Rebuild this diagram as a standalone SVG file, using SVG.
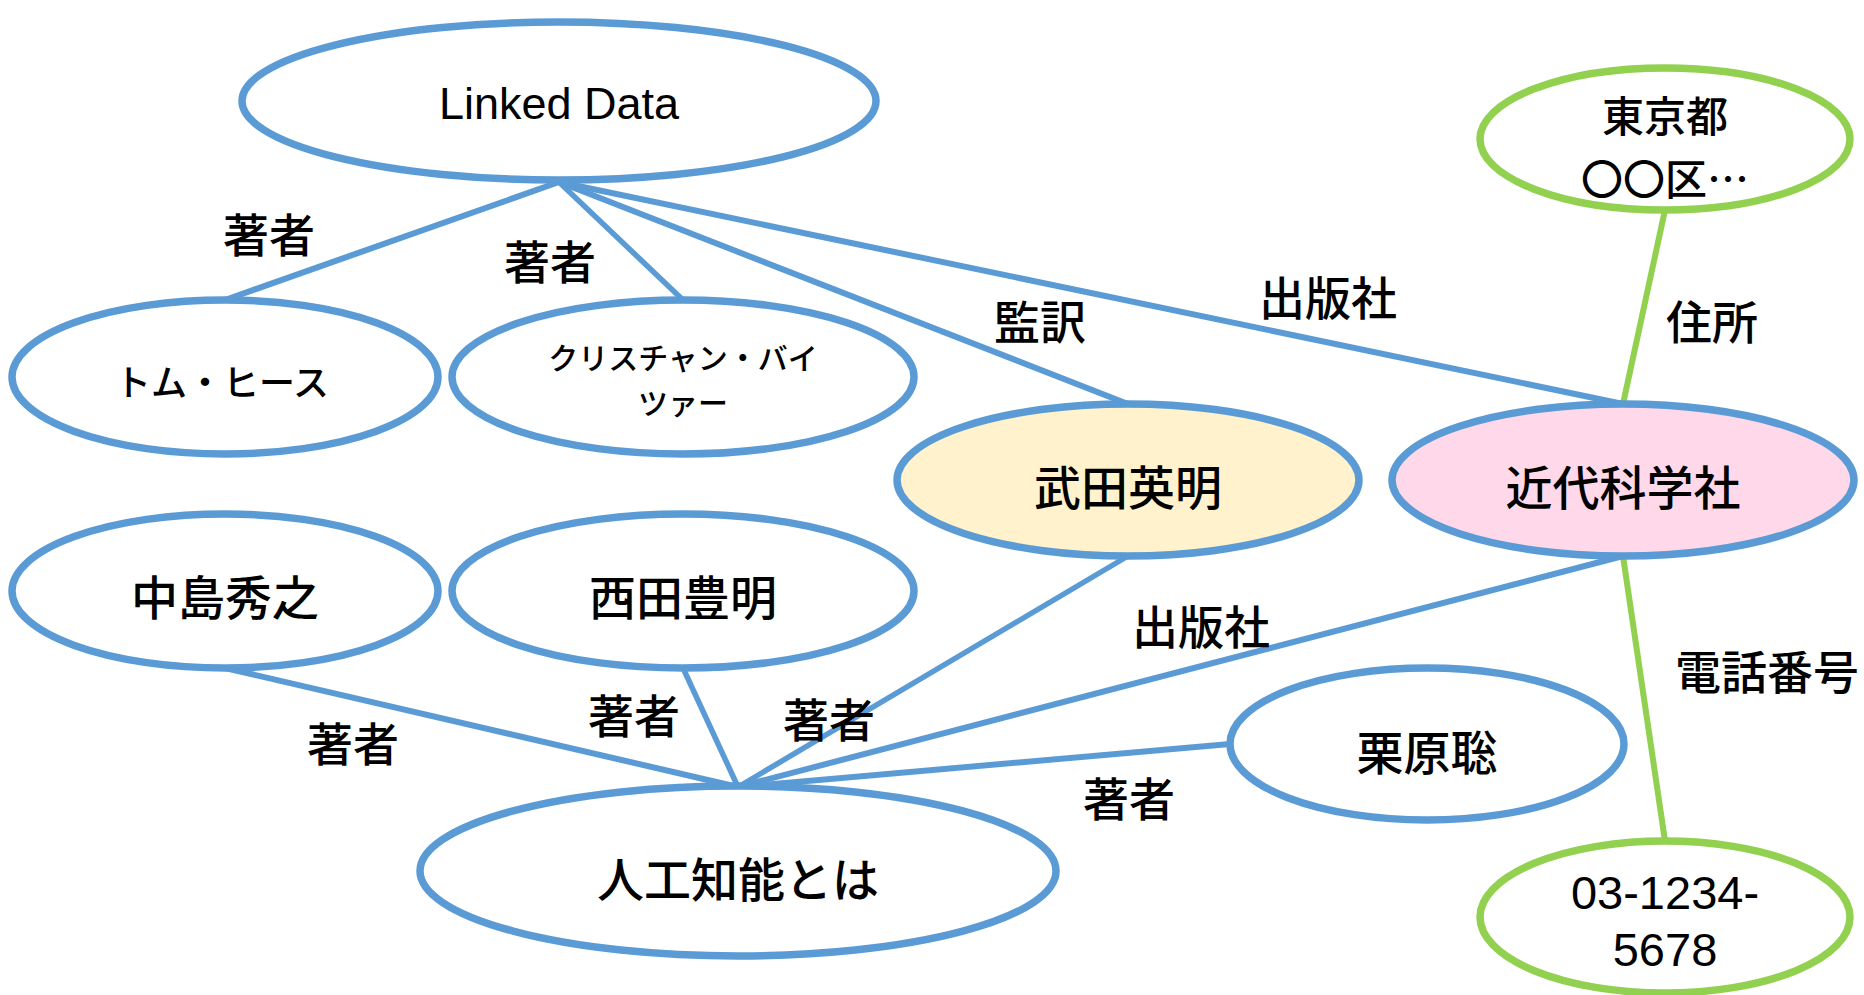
<svg xmlns="http://www.w3.org/2000/svg" width="1864" height="995" viewBox="0 0 1864 995">
<style>
.n{stroke:#5B9BD5;stroke-width:7.5;fill:#FFFFFF}
.g{stroke:#92D050;stroke-width:7.5;fill:#FFFFFF}
.c{stroke:#5B9BD5;stroke-width:6;fill:none}
.ct{stroke:#5B9BD5;stroke-width:5.5;fill:none}
.cg{stroke:#92D050;stroke-width:6;fill:none}
text{font-family:"Noto Sans CJK JP","Liberation Sans",sans-serif;font-weight:500;fill:#000;text-anchor:middle;dominant-baseline:central}
.t{font-size:47px}
.l{font-size:46px}
.s{font-size:30px}
.e{font-family:"Liberation Sans","Noto Sans CJK JP",sans-serif;font-weight:400}
</style>
<rect width="1864" height="995" fill="#FFFFFF"/>
<g id="connectors">
<line class="c" x1="559" y1="182" x2="225" y2="300"/>
<line class="ct" x1="559" y1="182" x2="683" y2="300"/>
<line class="c" x1="559" y1="182" x2="1128" y2="404"/>
<line class="c" x1="559" y1="182" x2="1623" y2="404"/>
<line class="cg" x1="1665" y1="210" x2="1623" y2="404"/>
<line class="cg" x1="1623" y1="556" x2="1665" y2="841"/>
<line class="c" x1="225" y1="668" x2="738" y2="787"/>
<line class="ct" x1="683" y1="668" x2="738" y2="787"/>
<line class="ct" x1="1128" y1="556" x2="738" y2="787"/>
<line class="c" x1="1623" y1="556" x2="738" y2="787"/>
<line class="c" x1="1230" y1="744" x2="738" y2="787"/>
<text class="l" x="269" y="232">著者</text>
<text class="l" x="550" y="259">著者</text>
<text class="l" x="1040" y="319">監訳</text>
<text class="l" x="1328" y="295">出版社</text>
<text class="l" x="1712" y="319">住所</text>
<text class="l" x="1767" y="669">電話番号</text>
<text class="l" x="1201" y="624">出版社</text>
<text class="l" x="353" y="741">著者</text>
<text class="l" x="634" y="713">著者</text>
<text class="l" x="829" y="717">著者</text>
<text class="l" x="1129" y="796">著者</text>
</g>
<g id="linked-data">
<ellipse class="n" cx="559" cy="101" rx="317" ry="79"/>
<text class="t e" x="559" y="103" style="font-size:45px">Linked Data</text>
</g>
<g id="tom-heath">
<ellipse class="n" cx="225" cy="377" rx="213" ry="77"/>
<text class="t" x="222" y="380" style="font-size:36px">トム・ヒース</text>
</g>
<g id="christian-bizer">
<ellipse class="n" cx="683" cy="377" rx="231" ry="77"/>
<text class="s" x="683" y="356">クリスチャン・バイ</text>
<text class="s" x="683" y="401">ツァー</text>
</g>
<g id="takeda">
<ellipse class="n" cx="1128" cy="480" rx="231" ry="76" style="fill:#FFF2CC"/>
<text class="t" x="1128" y="484">武田英明</text>
</g>
<g id="kindai">
<ellipse class="n" cx="1623" cy="480" rx="231" ry="76" style="fill:#FFD9EA"/>
<text class="t" x="1623" y="484">近代科学社</text>
</g>
<g id="address">
<ellipse class="g" cx="1665" cy="139" rx="185" ry="71"/>
<text class="t" x="1665" y="113" style="font-size:42px">東京都</text>
<text class="t" x="1665" y="176" style="font-size:42px">〇〇区…</text>
</g>
<g id="nakajima">
<ellipse class="n" cx="225" cy="591" rx="213" ry="77"/>
<text class="t" x="225" y="594">中島秀之</text>
</g>
<g id="nishida">
<ellipse class="n" cx="683" cy="591" rx="231" ry="77"/>
<text class="t" x="683" y="594">西田豊明</text>
</g>
<g id="ai-book">
<ellipse class="n" cx="738" cy="871" rx="318" ry="85"/>
<text class="t" x="738" y="876">人工知能とは</text>
</g>
<g id="kurihara">
<ellipse class="n" cx="1427" cy="744" rx="197" ry="76"/>
<text class="t" x="1427" y="749">栗原聡</text>
</g>
<g id="phone">
<ellipse class="g" cx="1665" cy="917" rx="185" ry="76"/>
<text class="t e" x="1665" y="892">03-1234-</text>
<text class="t e" x="1665" y="949">5678</text>
</g>
</svg>
